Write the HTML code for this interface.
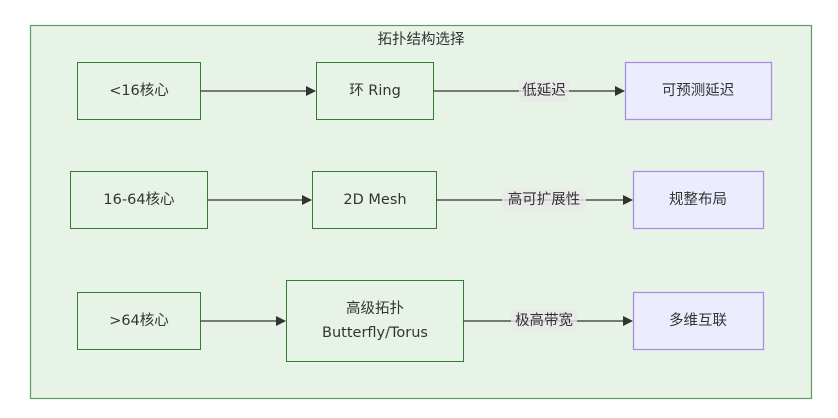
<!DOCTYPE html>
<html><head><meta charset="utf-8"><style>
html,body{margin:0;padding:0;background:#fff;}
svg{display:block;}
text{font-family:"DejaVu Sans","Noto Sans CJK SC",sans-serif;font-size:14.5px;fill:#333;text-anchor:middle;dominant-baseline:central;}
.g{fill:#e8f3e8;stroke:#2e7d32;stroke-width:1;}
.p{fill:#ececff;stroke:#a98ddf;stroke-width:1.3;}
.l{stroke:#333;stroke-width:1.2;fill:none;}
.lb{fill:#e8e8e8;opacity:0.8;}
</style></head><body>
<svg width="838" height="418" xmlns="http://www.w3.org/2000/svg">
<defs><marker id="a" markerWidth="10" markerHeight="10" refX="9" refY="5" orient="auto" markerUnits="userSpaceOnUse"><path d="M0,0L10,5L0,10z" fill="#333"/></marker></defs>
<rect x="30.5" y="25.5" width="781" height="373" fill="#e8f3e8" stroke="#5f9a5f" stroke-width="1.2"/>
<text x="421" y="40">拓扑结构选择</text>
<rect class="g" x="77.5" y="62.5" width="123" height="57"/><text x="139" y="91">&lt;16核心</text>
<rect class="g" x="316.5" y="62.5" width="117" height="57"/><text x="375" y="91">环 Ring</text>
<rect class="p" x="625.5" y="62.5" width="146" height="57"/><text x="698" y="91">可预测延迟</text>
<path class="l" d="M200.5,91H315" marker-end="url(#a)"/>
<path class="l" d="M433.5,91H624" marker-end="url(#a)"/>
<rect class="lb" x="519" y="80" width="50" height="22"/><text x="544" y="91">低延迟</text>
<rect class="g" x="70.5" y="171.5" width="137" height="57"/><text x="139" y="200">16-64核心</text>
<rect class="g" x="312.5" y="171.5" width="124" height="57"/><text x="375" y="200">2D Mesh</text>
<rect class="p" x="633.5" y="171.5" width="130" height="57"/><text x="698" y="200">规整布局</text>
<path class="l" d="M207.5,200H311" marker-end="url(#a)"/>
<path class="l" d="M436.5,200H632" marker-end="url(#a)"/>
<rect class="lb" x="502" y="189" width="84" height="22"/><text x="544" y="200">高可扩展性</text>
<rect class="g" x="77.5" y="292.5" width="123" height="57"/><text x="139" y="321">&gt;64核心</text>
<rect class="g" x="286.5" y="280.5" width="177" height="81"/><text x="375" y="309">高级拓扑</text><text x="375" y="333">Butterfly/Torus</text>
<rect class="p" x="633.5" y="292.5" width="130" height="57"/><text x="698" y="321">多维互联</text>
<path class="l" d="M200.5,321H285" marker-end="url(#a)"/>
<path class="l" d="M463.5,321H632" marker-end="url(#a)"/>
<rect class="lb" x="511" y="310" width="66" height="22"/><text x="544" y="321">极高带宽</text>
</svg>
</body></html>
